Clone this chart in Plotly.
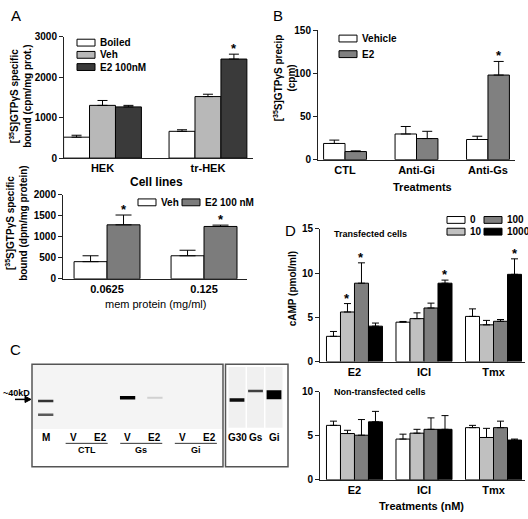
import plotly.graph_objects as go

W, H = 528, 519
FONT = "Arial, Liberation Sans, sans-serif"


def px(x):
    return x / W


def py(y):
    return 1 - y / H


# ---------------- data ----------------
# Panel A (top)
a1_groups = ["HEK", "tr-HEK"]
a1_series = ["Boiled", "Veh", "E2 100nM"]
a1_means = [[518, 663], [1306, 1524], [1268, 2453]]
a1_errs = [[48, 39], [121, 58], [38, 121]]
a1_colors = ["#ffffff", "#b8b8b8", "#3a3a3a"]
a1_sig = [(2, 1)]
a1_ticks = [0, 1000, 2000, 3000]

# Panel A (bottom)
a2_groups = ["0.0625", "0.125"]
a2_series = ["Veh", "E2 100 nM"]
a2_means = [[409, 549], [1286, 1247]]
a2_errs = [[140, 132], [233, 32]]
a2_colors = ["#ffffff", "#7c7c7c"]
a2_sig = [(1, 0), (1, 1)]
a2_ticks = [0, 500, 1000, 1500, 2000]

# Panel B
b_groups = ["CTL", "Anti-Gi", "Anti-Gs"]
b_series = ["Vehicle", "E2"]
b_means = [[18.8, 29.8, 23.4], [9.4, 24.5, 98.2]]
b_errs = [[3.9, 8.7, 3.8], [0.8, 8.4, 15.8]]
b_colors = ["#ffffff", "#808080"]
b_sig = [(1, 2)]
b_ticks = [0, 50, 100, 150]

# Panel D
d_groups = ["E2", "ICI", "Tmx"]
d_series = ["0", "10", "100", "1000"]
d_colors = ["#ffffff", "#c0c0c0", "#7f7f7f", "#000000"]
d1_means = [[2.85, 4.45, 5.1], [5.6, 4.85, 4.15], [8.85, 6.05, 4.55], [4.0, 8.85, 9.85]]
d1_errs = [[0.55, 0.08, 0.85], [0.95, 0.65, 0.5], [2.3, 0.55, 0.2], [0.35, 0.35, 1.75]]
d1_sig = [(1, 0), (2, 0), (3, 1), (3, 2)]
d1_ticks = [0, 5, 10, 15]
d2_means = [[6.19, 4.63, 5.93], [5.26, 5.3, 4.81], [5.07, 5.74, 5.93], [6.59, 5.74, 4.52]]
d2_errs = [[0.48, 0.56, 0.26], [0.37, 0.44, 1.04], [1.78, 1.3, 0.74], [1.19, 1.56, 0.11]]
d2_ticks = [0, 5, 10]

# Panel C (gel): lanes, band positions (relative mobility) and intensities
gel_lanes = ["M", "V", "E2", "V", "E2", "V", "E2"]
gel_groups = [("CTL", 1, 2), ("Gs", 3, 4), ("Gi", 5, 6)]
gel_band_lane = [0, 0, 3, 4]
gel_band_pos = [0.566, 0.778, 0.515, 0.515]
gel_band_int = [0.8, 0.65, 1.0, 0.18]
gel_band_thick = [2.5, 2.5, 3.5, 2]
gel2_lanes = ["G30", "Gs", "Gi"]
gel2_band_lane = [0, 1, 2]
gel2_band_pos = [0.55, 0.41, 0.47]
gel2_band_int = [0.95, 0.75, 1.0]
gel2_band_thick = [3.5, 2.5, 9]

fig = go.Figure()
annotations = []
shapes = []


def gray(i):
    v = int(round(255 * (1 - i)))
    return f"rgb({v},{v},{v})"


def add_bars(xa, ya, groups, series, means, errs, colors, width, sig, cap):
    n = len(series)
    for k in range(n):
        center = (k - (n - 1) / 2) * width
        fig.add_trace(go.Bar(
            x=list(range(len(groups))), y=means[k], name=series[k],
            width=width, offset=center - width / 2,
            marker=dict(color=colors[k], line=dict(color="black", width=1)),
            error_y=dict(type="data", array=errs[k], arrayminus=[0] * len(groups),
                         symmetric=False, color="black", thickness=1, width=cap),
            xaxis=xa, yaxis=ya, showlegend=False))
    for (k, g) in sig:
        center = (k - (n - 1) / 2) * width
        annotations.append(dict(
            x=g + center, y=means[k][g] + errs[k][g], xref=xa, yref=ya,
            text="*", showarrow=False, yanchor="bottom", yshift=-4,
            font=dict(family=FONT, size=13, color="black", weight="bold")))


def legend_boxes(items, colors, x0s, ys, bw=18, bh=7, fs=10):
    for name, c, x0, y in zip(items, colors, x0s, ys):
        shapes.append(dict(type="rect", xref="paper", yref="paper",
                           x0=px(x0), x1=px(x0 + bw), y0=py(y + bh / 2), y1=py(y - bh / 2),
                           fillcolor=c, line=dict(color="black", width=1)))
        annotations.append(dict(x=px(x0 + bw + 3), y=py(y), xref="paper", yref="paper",
                                text=name, showarrow=False, xanchor="left", yanchor="middle",
                                font=dict(family=FONT, size=fs, color="black", weight="bold")))


def text(x, y, s, size=10, bold=True, angle=0, xanchor="center"):
    annotations.append(dict(x=px(x), y=py(y), xref="paper", yref="paper", text=s,
                            showarrow=False, textangle=angle, xanchor=xanchor, yanchor="middle",
                            font=dict(family=FONT, size=size, color="black",
                                      weight="bold" if bold else "normal")))


tickfont = dict(family=FONT, size=10, color="black", weight="bold")
common_x = dict(showline=True, linecolor="#222", linewidth=1, ticks="", showgrid=False,
                zeroline=False, tickfont=dict(family=FONT, size=11, color="black", weight="bold"))
common_y = dict(showline=True, linecolor="#222", linewidth=1, ticks="outside", ticklen=4,
                tickcolor="#222", showgrid=False, zeroline=False, tickfont=tickfont)

layout = dict(width=W, height=H, margin=dict(l=0, r=0, t=0, b=0),
              paper_bgcolor="white", plot_bgcolor="white", barmode="overlay",
              showlegend=False)

# A top
add_bars("x", "y", a1_groups, a1_series, a1_means, a1_errs, a1_colors, 0.246, a1_sig, 5)
layout["xaxis"] = dict(common_x, domain=[px(64), px(253)], range=[-0.365, 1.427],
                       tickvals=[0, 1], ticktext=a1_groups, anchor="y")
layout["yaxis"] = dict(common_y, domain=[py(155.7), py(31.7)], range=[0, 3000],
                       tickvals=a1_ticks, anchor="x")
legend_boxes(a1_series, a1_colors, [77, 77, 77], [37.5, 50, 62.5])

# A bottom
add_bars("x2", "y2", a2_groups, a2_series, a2_means, a2_errs, a2_colors, 0.34, a2_sig, 8)
layout["xaxis2"] = dict(common_x, domain=[px(63), px(247)], range=[-0.454, 1.443],
                        tickvals=[0, 1], ticktext=a2_groups, anchor="y2")
layout["yaxis2"] = dict(common_y, domain=[py(279.3), py(193.3)], range=[0, 2000],
                        tickvals=a2_ticks, anchor="x2")
legend_boxes(a2_series, a2_colors, [138, 182], [201, 201])

# B
add_bars("x3", "y3", b_groups, b_series, b_means, b_errs, b_colors, 0.30, b_sig, 5)
layout["xaxis3"] = dict(common_x, domain=[px(318), px(515)], range=[-0.378, 2.378],
                        tickvals=[0, 1, 2], ticktext=b_groups, anchor="y3")
layout["yaxis3"] = dict(common_y, domain=[py(157.3), py(25)], range=[0, 150],
                        tickvals=b_ticks, anchor="x3")
legend_boxes(b_series, b_colors, [339, 339], [33.3, 49.3])

# D top
add_bars("x4", "y4", d_groups, d_series, d1_means, d1_errs, d_colors, 0.2014, d1_sig, 3.5)
layout["xaxis4"] = dict(common_x, domain=[px(320), px(525)], range=[-0.496, 2.453],
                        tickvals=[0, 1, 2], ticktext=d_groups, anchor="y4")
layout["yaxis4"] = dict(common_y, domain=[py(364), py(228)], range=[0, 15],
                        tickvals=d1_ticks, anchor="x4")
legend_boxes(d_series, d_colors, [447, 447, 484, 484], [219, 231, 219, 231])

# D bottom
add_bars("x5", "y5", d_groups, d_series, d2_means, d2_errs, d_colors, 0.2014, [], 3.5)
layout["xaxis5"] = dict(common_x, domain=[px(320), px(525)], range=[-0.496, 2.453],
                        tickvals=[0, 1, 2], ticktext=d_groups, anchor="y5")
layout["yaxis5"] = dict(common_y, domain=[py(485), py(395)], range=[0, 10],
                        tickvals=d2_ticks, anchor="x5")

# C gel axes
layout["xaxis6"] = dict(domain=[px(32), px(223)], range=[-0.502, 6.495], visible=False,
                        anchor="y6")
layout["yaxis6"] = dict(domain=[py(472), py(367)], range=[1.591, 0], visible=False,
                        anchor="x6")
layout["xaxis7"] = dict(domain=[px(226), px(288)], range=[-0.595, 2.757], visible=False,
                        anchor="y7")
layout["yaxis7"] = dict(domain=[py(472), py(367)], range=[1.591, 0], visible=False,
                        anchor="x7")

shapes.append(dict(type="rect", xref="x6", yref="y6", x0=-0.502, x1=6.495, y0=0, y1=1,
                   fillcolor="#f4f4f4", line=dict(width=0), layer="below"))
for i in range(len(gel2_lanes)):
    shapes.append(dict(type="rect", xref="x7", yref="y7", x0=i - 0.46, x1=i + 0.46,
                       y0=0.04, y1=0.98, fillcolor="#f0f0f0", line=dict(width=0),
                       layer="below"))

for ln, pos, inten, th in zip(gel_band_lane, gel_band_pos, gel_band_int, gel_band_thick):
    fig.add_trace(go.Scatter(x=[ln - 0.28, ln + 0.28], y=[pos, pos], mode="lines",
                             line=dict(color=gray(inten), width=th), xaxis="x6",
                             yaxis="y6", showlegend=False, hoverinfo="skip"))
for ln, pos, inten, th in zip(gel2_band_lane, gel2_band_pos, gel2_band_int, gel2_band_thick):
    fig.add_trace(go.Scatter(x=[ln - 0.4, ln + 0.4], y=[pos, pos], mode="lines",
                             line=dict(color=gray(inten), width=th), xaxis="x7",
                             yaxis="y7", showlegend=False, hoverinfo="skip"))

# gel lane labels
for i, lab in enumerate(gel_lanes):
    annotations.append(dict(x=i, y=py(441.7), xref="x6", yref="paper", text=lab,
                            showarrow=False, yanchor="middle",
                            font=dict(family=FONT, size=10, color="black", weight="bold")))
for lab, a, b in gel_groups:
    shapes.append(dict(type="line", xref="x6", yref="paper", x0=a - 0.27, x1=b + 0.27,
                       y0=py(447.7), y1=py(447.7), line=dict(color="#333", width=1)))
    annotations.append(dict(x=(a + b) / 2, y=py(455), xref="x6", yref="paper", text=lab,
                            showarrow=False, yanchor="middle",
                            font=dict(family=FONT, size=9, color="black", weight="bold")))
for i, lab in enumerate(gel2_lanes):
    annotations.append(dict(x=i, y=py(441.7), xref="x7", yref="paper", text=lab,
                            showarrow=False, yanchor="middle",
                            font=dict(family=FONT, size=10, color="black", weight="bold")))

# gel boxes
shapes.append(dict(type="rect", xref="paper", yref="paper", x0=px(32), x1=px(223),
                   y0=py(471.7), y1=py(366.7), line=dict(color="#555", width=1.5)))
shapes.append(dict(type="rect", xref="paper", yref="paper", x0=px(225.5), x1=px(288),
                   y0=py(471.7), y1=py(366.7), line=dict(color="#555", width=1.5)))

# 40kD marker
text(16, 396, "~40kD", size=9, bold=True)
shapes.append(dict(type="line", xref="paper", yref="paper", x0=px(15), x1=px(27),
                   y0=py(402.7), y1=py(402.7), line=dict(color="black", width=1.5)))
shapes.append(dict(type="path", xref="paper", yref="paper",
                   path=f"M {px(25)},{py(399.5)} L {px(31)},{py(402.7)} L {px(25)},{py(405.9)} Z",
                   fillcolor="black", line=dict(color="black", width=1)))

# axis titles
text(21, 93, "[<sup>35</sup>S]GTPγS specific<br>bound (cpm/mg prot.)", size=10, angle=-90)
text(17, 222, "[<sup>35</sup>S]GTPγS specific<br>bound (dpm/mg protein)", size=10, angle=-90)
text(284, 74, "[<sup>35</sup>S]GTPγS precip<br>(cpm)", size=10, angle=-90)
text(292, 290, "cAMP (pmol/ml)", size=10, angle=-90)
text(156, 180, "Cell lines", size=12)
text(155, 305, "mem protein (mg/ml)", size=11, bold=False)
text(422, 185, "Treatments", size=11)
text(421, 511.5, "Treatments (nM)", size=11)
text(332, 233, "Transfected cells", size=9, xanchor="left")
text(332, 395, "Non-transfected cells", size=9, xanchor="left")

# panel letters
text(16, 10, "A", size=15, bold=False)
text(278, 10, "B", size=15, bold=False)
text(15.5, 352, "C", size=15, bold=False)
text(290, 230, "D", size=15, bold=False)

layout["annotations"] = annotations
layout["shapes"] = shapes
fig.update_layout(**layout)
fig.write_html(
    "out.html",
    config={"displayModeBar": False},
    post_script="document.body.style.margin='0';document.body.style.overflow='hidden';",
)
